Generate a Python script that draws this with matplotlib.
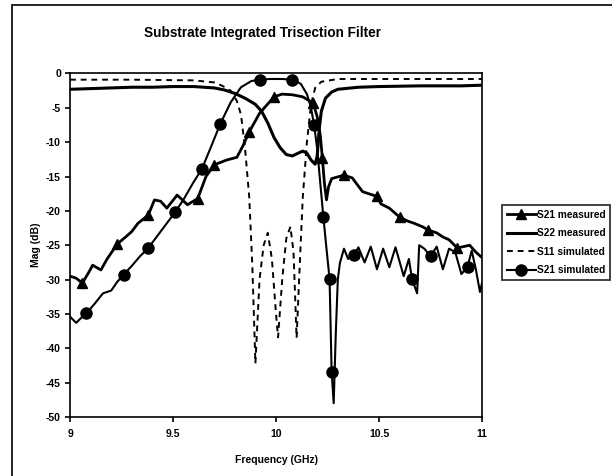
import matplotlib
matplotlib.use("Agg")
import matplotlib.pyplot as plt
from matplotlib.patches import Rectangle

plt.rcParams['font.family'] = ['Liberation Sans', 'DejaVu Sans']
plt.rcParams['font.weight'] = 'bold'
plt.rcParams['axes.unicode_minus'] = False

# S21 measured (triangles)
s21m_f = [9.0, 9.03, 9.06, 9.09, 9.11, 9.15, 9.18, 9.23, 9.27, 9.30, 9.33, 9.38,
          9.41, 9.44, 9.47, 9.52, 9.57, 9.62, 9.66, 9.70, 9.76, 9.81, 9.84, 9.87,
          9.92, 9.99, 10.03, 10.08, 10.13, 10.18, 10.2, 10.215, 10.225, 10.235,
          10.245, 10.255, 10.27, 10.33, 10.37, 10.42, 10.46, 10.49, 10.51, 10.55,
          10.6, 10.64, 10.67, 10.71, 10.74, 10.78, 10.81, 10.84, 10.88, 10.91,
          10.94, 10.97, 11.0]
s21m_db = [-29.5, -29.8, -30.5, -29.0, -27.9, -28.6, -27.0, -24.8, -23.8, -23.0, -21.8, -20.6,
           -18.4, -18.6, -19.6, -17.7, -19.1, -18.2, -15.0, -13.3, -12.6, -12.2, -10.5, -8.5,
           -5.8, -3.4, -3.0, -3.1, -3.4, -4.3, -6.3, -9.0, -12.3, -16.0,
           -18.4, -16.5, -15.3, -14.8, -15.2, -17.2, -17.6, -17.9, -19.0, -19.6,
           -20.9, -21.5, -21.8, -22.3, -22.8, -23.2, -23.8, -24.2, -25.4, -25.2,
           -25.0, -26.0, -26.8]
s21m_marks = [9.06, 9.23, 9.38, 9.62, 9.70, 9.87, 9.99, 10.18, 10.225, 10.33,
              10.49, 10.6, 10.74, 10.88]

# S22 measured
s22m_f = [9.0, 9.1, 9.2, 9.3, 9.4, 9.5, 9.6, 9.7, 9.75, 9.8, 9.85, 9.9, 9.93, 9.96,
          9.99, 10.02, 10.05, 10.08, 10.1, 10.13, 10.15, 10.17, 10.19, 10.2, 10.21,
          10.22, 10.24, 10.27, 10.3, 10.4, 10.5, 10.7, 10.9, 11.0]
s22m_db = [-2.3, -2.2, -2.1, -2.0, -2.0, -1.9, -1.9, -2.1, -2.4, -2.9, -3.6, -4.5, -5.5, -7.2,
           -9.3, -10.8, -11.8, -12.0, -11.7, -11.3, -11.6, -12.6, -13.2, -12.0, -8.0,
           -5.5, -3.6, -2.7, -2.3, -2.0, -1.9, -1.8, -1.8, -1.7]

# S11 simulated
s11s_f = [9.0, 9.3, 9.6, 9.7, 9.74, 9.78, 9.81, 9.83, 9.85, 9.87, 9.885, 9.9, 9.92,
          9.94, 9.96, 9.98, 10.0, 10.01, 10.03, 10.05, 10.07, 10.085, 10.1, 10.115,
          10.13, 10.15, 10.17, 10.19, 10.22, 10.3, 10.6, 11.0]
s11s_db = [-0.9, -0.9, -1.0, -1.3, -1.8, -2.5, -4.0, -6.0, -11.0, -18.0, -28.0, -42.2, -30.0,
           -25.0, -23.2, -27.0, -35.0, -38.4, -30.0, -24.0, -22.3, -26.0, -38.5, -28.0,
           -18.0, -10.0, -4.5, -2.1, -1.2, -0.8, -0.8, -0.8]

# S21 simulated (circles)
s21s_f = [9.0, 9.03, 9.06, 9.08, 9.12, 9.16, 9.2, 9.23, 9.26, 9.3, 9.34, 9.38, 9.42,
          9.46, 9.51, 9.55, 9.6, 9.64, 9.68, 9.73, 9.78, 9.83, 9.88, 9.92, 9.97,
          10.03, 10.08, 10.12, 10.15, 10.17, 10.185, 10.2, 10.215, 10.23, 10.245,
          10.26, 10.27, 10.28, 10.29, 10.3, 10.31, 10.33, 10.35, 10.38, 10.40, 10.43,
          10.46, 10.49, 10.52, 10.55, 10.58, 10.62, 10.645, 10.66, 10.685, 10.695,
          10.72, 10.75, 10.78, 10.81, 10.84, 10.87, 10.9, 10.93, 10.95, 10.97,
          10.99, 11.0]
s21s_db = [-35.4, -36.3, -35.4, -34.9, -33.5, -32.0, -31.6, -30.3, -29.3, -28.0, -26.6, -25.4, -23.8,
           -22.2, -20.2, -18.4, -15.8, -13.9, -11.0, -7.3, -4.2, -2.0, -1.1, -0.9, -0.8,
           -0.8, -0.9, -1.5, -3.0, -5.0, -7.5, -11.0, -16.0, -20.9, -25.5,
           -29.9, -43.5, -48.0, -38.0, -30.0, -27.6, -25.5, -27.0, -26.4, -25.3, -27.5,
           -25.2, -28.5, -25.5, -28.2, -25.3, -29.5, -27.0, -29.9, -32.0, -25.0,
           -25.5, -26.6, -25.2, -28.5, -25.5, -26.0, -29.2, -28.1, -25.8, -28.5,
           -31.8, -30.5]
s21s_marks = [9.08, 9.26, 9.38, 9.51, 9.64, 9.73, 9.92, 10.08, 10.185, 10.23, 10.26,
              10.27, 10.38, 10.66, 10.75, 10.93]

xticks = [9, 9.5, 10, 10.5, 11]
xticklabels = ['9', '9.5', '10', '10.5', '11']
yticks = list(range(0, -55, -5))

fig = plt.figure(figsize=(6.12, 4.76), dpi=100)
ax = fig.add_axes([0.1144, 0.124, 0.6732, 0.7216])

ax.plot(s21m_f, s21m_db, color='black', lw=2.0, marker='^', ms=7.5,
        markevery=[s21m_f.index(v) for v in s21m_marks], label='S21 measured', zorder=4)
ax.plot(s22m_f, s22m_db, color='black', lw=2.2, label='S22 measured', zorder=3)
ax.plot(s11s_f, s11s_db, color='black', lw=1.4, linestyle=(0, (3, 2.5)),
        label='S11 simulated', zorder=2)
ax.plot(s21s_f, s21s_db, color='black', lw=1.5, marker='o', ms=8,
        markevery=[s21s_f.index(v) for v in s21s_marks], label='S21 simulated', zorder=5)

ax.set_xlim(9, 11)
ax.set_ylim(-50, 0)
ax.set_xticks(xticks)
ax.set_xticklabels(xticklabels)
ax.set_yticks(yticks)
ax.tick_params(axis='y', direction='out', length=3.5, width=1.2, labelsize=7.5, pad=3)
ax.tick_params(axis='x', direction='out', length=3.5, width=1.2, labelsize=7.5, pad=5)
for lab in ax.get_xticklabels() + ax.get_yticklabels():
    lab.set_fontweight('bold')
for sp in ax.spines.values():
    sp.set_linewidth(1.2)

ax.set_xlabel('Frequency (GHz)', fontsize=7.5, fontweight='bold', labelpad=12)
ax.set_ylabel('Mag (dB)', fontsize=7.5, fontweight='bold', labelpad=4)
fig.text(262 / 612, 1 - 33 / 476, 'Substrate Integrated Trisection Filter',
         ha='center', va='center', fontsize=9.8, fontweight='bold')

# legend sits against the right edge like in the reference, text kept inside
leg = fig.legend(loc='upper left', bbox_to_anchor=(502 / 612, 1 - 205 / 476),
                 frameon=True, fancybox=False, borderaxespad=0,
                 handlelength=2.9, handletextpad=0.1, borderpad=0.45,
                 labelspacing=0.85, prop={'weight': 'bold', 'size': 7.3})
leg.get_frame().set_edgecolor('black')
leg.get_frame().set_linewidth(1.3)

# outer chart frame (only the left and top edges are inside the picture)
fig.patches.append(Rectangle((12 / 612, -0.5), 2.0, 1.5 - 5 / 476, fill=False,
                             edgecolor='black', lw=1.2, transform=fig.transFigure))

fig.savefig('out.png', dpi=100)
